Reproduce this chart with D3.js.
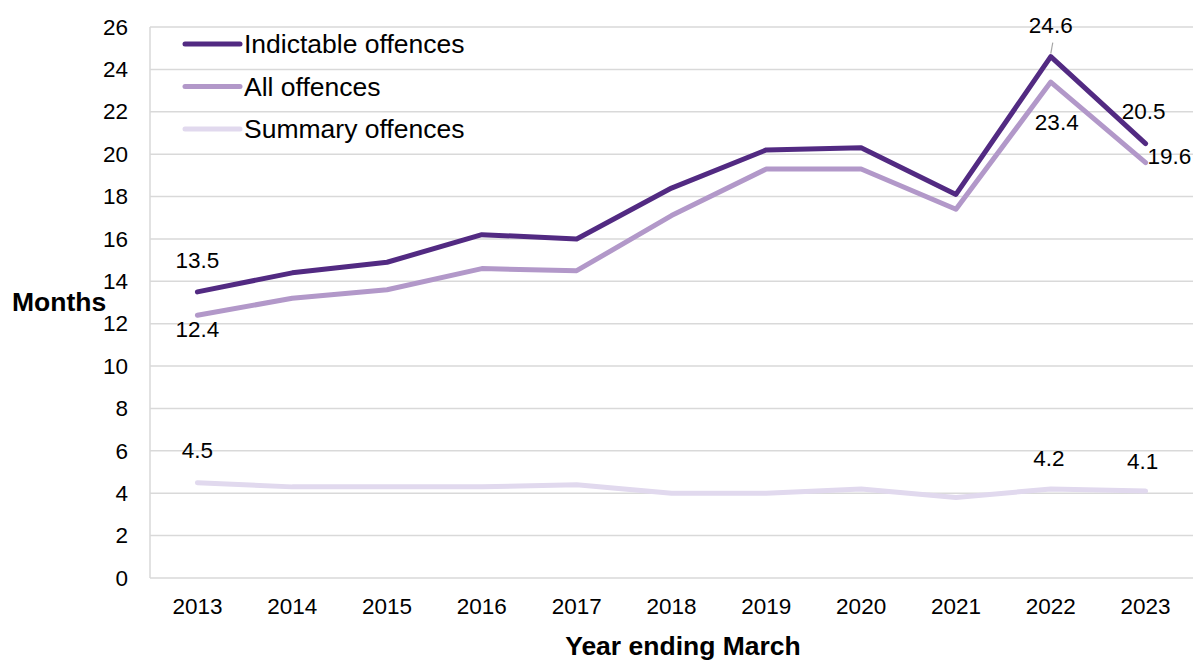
<!DOCTYPE html>
<html>
<head>
<meta charset="utf-8">
<script src="https://cdn.jsdelivr.net/npm/d3@7"></script>
<style>
  html, body { margin: 0; padding: 0; background: #fff; }
  svg { display: block; font-family: "Liberation Sans", Arial, sans-serif; }
</style>
</head>
<body>
<svg id="chart" width="1194" height="660"></svg>
<script>
// Average time (months) from offence to completion, by year ending March
const years = ["2013", "2014", "2015", "2016", "2017", "2018", "2019", "2020", "2021", "2022", "2023"];
const indictable = [13.5, 14.4, 14.9, 16.2, 16.0, 18.4, 20.2, 20.3, 18.1, 24.6, 20.5];
const allOffences = [12.4, 13.2, 13.6, 14.6, 14.5, 17.1, 19.3, 19.3, 17.4, 23.4, 19.6];
const summary = [4.5, 4.3, 4.3, 4.3, 4.4, 4.0, 4.0, 4.2, 3.8, 4.2, 4.1];
const yTicks = [0, 2, 4, 6, 8, 10, 12, 14, 16, 18, 20, 22, 24, 26];

const seriesNames = ["Indictable offences", "All offences", "Summary offences"];
const seriesColors = ["#522a82", "#b298c9", "#e1d9ee"];

const series = [
  { name: seriesNames[0], values: indictable, color: seriesColors[0] },
  { name: seriesNames[1], values: allOffences, color: seriesColors[1] },
  { name: seriesNames[2], values: summary, color: seriesColors[2] }
];

const svg = d3.select("#chart");
const plotLeft = 150, plotRight = 1193, plotTop = 27, plotBottom = 578;

const x = d3.scaleBand().domain(years).range([plotLeft, plotRight]);
const y = d3.scaleLinear().domain([0, 26]).range([plotBottom, plotTop]);
const cx = d => x(d) + x.bandwidth() / 2;

// gridlines
svg.append("g")
  .selectAll("line")
  .data(yTicks)
  .join("line")
  .attr("x1", plotLeft).attr("x2", plotRight)
  .attr("y1", d => y(d)).attr("y2", d => y(d))
  .attr("stroke", "#d9d9d9").attr("stroke-width", 1.5);

// left edge of the plot area
svg.append("line")
  .attr("x1", plotLeft).attr("x2", plotLeft)
  .attr("y1", y(26)).attr("y2", y(0))
  .attr("stroke", "#d9d9d9").attr("stroke-width", 1.5);

// y axis labels
const yAxis = svg.append("g")
  .attr("transform", `translate(${plotLeft},0)`)
  .call(d3.axisLeft(y).tickValues(yTicks).tickSize(0).tickPadding(22).tickFormat(d3.format("d")));
yAxis.select(".domain").remove();
yAxis.selectAll("text").attr("font-size", 22.5).attr("fill", "#000")
  .style("font-family", "'Liberation Sans', Arial, sans-serif");

// x axis labels
const xAxis = svg.append("g")
  .attr("transform", `translate(0,${plotBottom})`)
  .call(d3.axisBottom(x).tickSize(0).tickPadding(20));
xAxis.select(".domain").remove();
xAxis.selectAll("text").attr("font-size", 22.5).attr("fill", "#000")
  .style("font-family", "'Liberation Sans', Arial, sans-serif");

// axis titles
svg.append("text")
  .attr("x", 12).attr("y", 311)
  .attr("font-size", 26.5).attr("font-weight", "bold")
  .text("Months");
svg.append("text")
  .attr("x", 683).attr("y", 655)
  .attr("text-anchor", "middle")
  .attr("font-size", 26.5).attr("font-weight", "bold")
  .text("Year ending March");

// lines (drawn light to dark so the darkest sits on top)
const line = d3.line()
  .x((d, i) => cx(years[i]))
  .y(d => y(d));

svg.append("g")
  .selectAll("path")
  .data(series.slice().reverse())
  .join("path")
  .attr("d", d => line(d.values))
  .attr("fill", "none")
  .attr("stroke", d => d.color)
  .attr("stroke-width", 5)
  .attr("stroke-linejoin", "round")
  .attr("stroke-linecap", "round");

// data labels
const labels = [
  { s: indictable, i: 0, dx: 0, dy: -24, anchor: "middle" },
  { s: allOffences, i: 0, dx: 0, dy: 22, anchor: "middle" },
  { s: indictable, i: 9, dx: 0, dy: -24, anchor: "middle" },
  { s: allOffences, i: 9, dx: 6, dy: 48, anchor: "middle" },
  { s: indictable, i: 10, dx: -2, dy: -25, anchor: "middle" },
  { s: allOffences, i: 10, dx: 2, dy: 1, anchor: "start" },
  { s: summary, i: 0, dx: 0, dy: -25, anchor: "middle" },
  { s: summary, i: 9, dx: -2, dy: -23, anchor: "middle" },
  { s: summary, i: 10, dx: -3, dy: -22, anchor: "middle" }
];

svg.append("g")
  .selectAll("text")
  .data(labels)
  .join("text")
  .attr("x", d => cx(years[d.i]) + d.dx)
  .attr("y", d => y(d.s[d.i]) + d.dy)
  .attr("text-anchor", d => d.anchor)
  .attr("font-size", 22.5)
  .attr("fill", "#000")
  .text(d => d3.format(".1f")(d.s[d.i]));

// leader line for the 2022 indictable label
svg.append("line")
  .attr("x1", cx(years[9]) + 2).attr("y1", y(indictable[9]) - 14)
  .attr("x2", cx(years[9])).attr("y2", y(indictable[9]) - 3)
  .attr("stroke", "#a6a6a6").attr("stroke-width", 1.2);

// legend
const legend = svg.append("g")
  .selectAll("g")
  .data(series)
  .join("g")
  .attr("transform", (d, i) => `translate(185,${44 + i * 42.5})`);
legend.append("line")
  .attr("x1", 0).attr("x2", 55)
  .attr("stroke", d => d.color)
  .attr("stroke-width", 5)
  .attr("stroke-linecap", "round");
legend.append("text")
  .attr("x", 59).attr("y", 9)
  .attr("font-size", 26.5)
  .attr("fill", "#000")
  .text(d => d.name);
</script>
</body>
</html>
